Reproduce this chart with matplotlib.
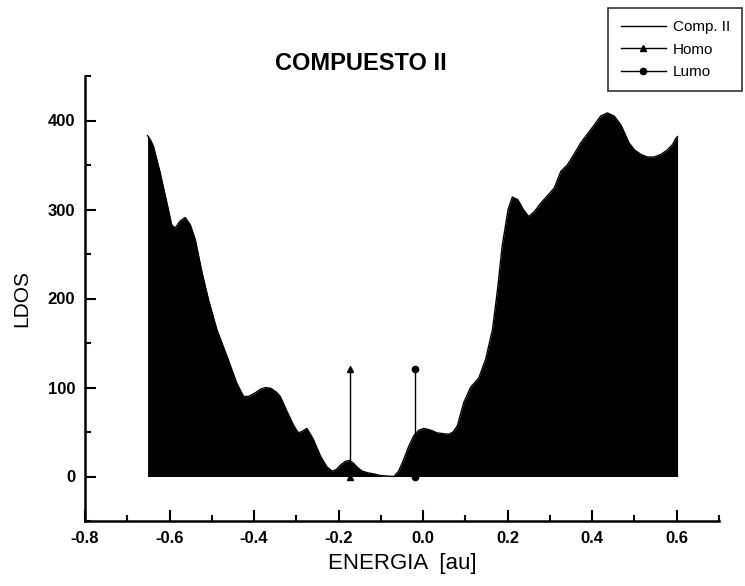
import matplotlib
matplotlib.use("Agg")
import matplotlib.pyplot as plt
from matplotlib.ticker import MultipleLocator

plt.rcParams['font.family'] = ['Liberation Sans', 'DejaVu Sans']

# LDOS curve of "Comp. II"
energy = [-0.652, -0.645, -0.638, -0.622, -0.606, -0.595, -0.587, -0.575, -0.563,
          -0.551, -0.539, -0.523, -0.508, -0.488, -0.464, -0.441, -0.425, -0.413,
          -0.397, -0.385, -0.373, -0.360, -0.348, -0.338, -0.322, -0.306,
          -0.295, -0.285, -0.275, -0.260, -0.243, -0.228, -0.215, -0.205, -0.195,
          -0.184, -0.174, -0.165, -0.155, -0.144, -0.130, -0.117, -0.100, -0.069,
          -0.058, -0.046, -0.034, -0.022, -0.010, 0.002, 0.018, 0.033, 0.050,
          0.061, 0.071, 0.081, 0.096, 0.112, 0.132, 0.148, 0.164, 0.176, 0.187,
          0.201, 0.211, 0.224, 0.237, 0.250, 0.264, 0.278, 0.310, 0.326, 0.341,
          0.357, 0.373, 0.389, 0.405, 0.420, 0.436, 0.452, 0.468, 0.487, 0.500,
          0.515, 0.530, 0.547, 0.563, 0.578, 0.590, 0.598, 0.602]
ldos = [383, 378, 371, 341, 307, 283, 279, 287, 291,
        283, 266, 229, 199, 165, 135, 105, 90, 90,
        94, 98, 100, 99, 95, 90, 73, 57,
        49, 51, 54, 42, 23, 11, 6, 8, 13,
        17, 18, 15, 10, 6, 4, 3, 1, 0,
        6, 19, 34, 46, 52, 54, 52, 49, 48,
        47.5, 50, 57, 83, 100, 111, 132, 165, 210, 259,
        300, 314, 311, 300, 292, 298, 307, 324, 343, 350,
        362, 375, 385, 395, 405, 408.5, 405, 395, 375, 367,
        362, 359, 359, 362, 367, 373, 380, 382]

homo_x = [-0.174, -0.174]
homo_y = [0, 121]
lumo_x = [-0.020, -0.020]
lumo_y = [0, 121]

x_ticks = [-0.8, -0.6, -0.4, -0.2, 0.0, 0.2, 0.4, 0.6]
x_tick_labels = ['-0.8', '-0.6', '-0.4', '-0.2', '0.0', '0.2', '0.4', '0.6']
y_ticks = [0, 100, 200, 300, 400]

fig = plt.figure(figsize=(7.45, 5.86), dpi=100)
ax = fig.add_axes([85/745, 1-521/586, (719-85)/745, (521-76)/586])

ax.fill_between(energy, ldos, 0, color='black', linewidth=0)
l1, = ax.plot(energy, ldos, color='black', linewidth=1.0, label='Comp. II')
l2, = ax.plot(homo_x, homo_y, color='black', linewidth=1.0, marker='^',
              markersize=5, label='Homo')
l3, = ax.plot(lumo_x, lumo_y, color='black', linewidth=1.0, marker='o',
              markersize=4.5, label='Lumo')

ax.set_xlim(-0.8, 0.7)
ax.set_ylim(-50, 450)
ax.set_xticks(x_ticks)
ax.set_xticklabels(x_tick_labels)
ax.set_yticks(y_ticks)
ax.xaxis.set_minor_locator(MultipleLocator(0.1))
ax.yaxis.set_minor_locator(MultipleLocator(50))

for s in ['top', 'right']:
    ax.spines[s].set_visible(False)
for s in ['left', 'bottom']:
    ax.spines[s].set_linewidth(1.8)

ax.tick_params(axis='both', which='major', direction='in', length=8, width=1.5,
               labelsize=12, pad=7)
ax.tick_params(axis='both', which='minor', direction='in', length=4, width=1.5)
for lab in ax.get_xticklabels() + ax.get_yticklabels():
    lab.set_fontweight('bold')

ax.set_xlabel('ENERGIA  [au]', fontsize=16, labelpad=5)
ax.set_ylabel('LDOS', fontsize=15, labelpad=12)

fig.text(361/745, 1-63.5/586, 'COMPUESTO II', fontsize=17, fontweight='bold',
         ha='center', va='center')

leg = fig.legend(handles=[l1, l2, l3], loc='upper right',
                 bbox_to_anchor=(742/745, 1-8/586), fontsize=11,
                 frameon=True, fancybox=False, edgecolor='black',
                 handlelength=3.0, handletextpad=0.4, labelspacing=0.55,
                 borderpad=0.8, borderaxespad=0)
leg.get_frame().set_linewidth(1.2)

fig.savefig('out.png', dpi=100)
